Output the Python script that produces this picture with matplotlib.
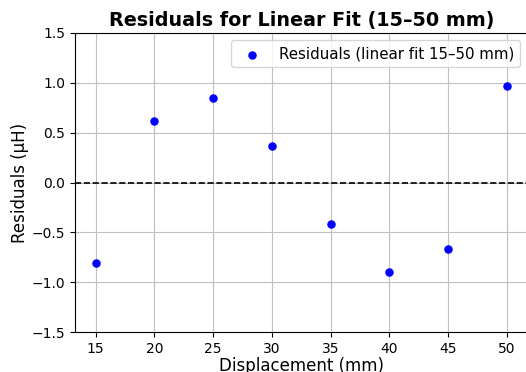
import matplotlib
matplotlib.use("Agg")
import matplotlib.pyplot as plt

displacement = [15, 20, 25, 30, 35, 40, 45, 50]
residuals = [-0.806, 0.614, 0.846, 0.363, -0.413, -0.896, -0.665, 0.967]

fig = plt.figure(figsize=(5.26, 3.72), dpi=100)
ax = fig.add_axes([0.1426, 0.1075, 0.8604, 0.8038])
ax.scatter(displacement, residuals, color='blue', s=26, zorder=3,
           label='Residuals (linear fit 15–50 mm)')
ax.axhline(0, color='black', linestyle='--', linewidth=1.2)
ax.set_xlim(13.25, 51.75)
ax.set_ylim(-1.5, 1.5)
ax.set_xticks(displacement)
ax.set_yticks([-1.5, -1.0, -0.5, 0.0, 0.5, 1.0, 1.5])
ax.grid(True, color='#c0c0c0', linewidth=0.8)
ax.set_axisbelow(True)
ax.tick_params(labelsize=10)
ax.set_xlabel('Displacement (mm)', fontsize=12, labelpad=1)
ax.set_ylabel('Residuals (µH)', fontsize=12, labelpad=2)
ax.set_title('Residuals for Linear Fit (15–50 mm)', fontsize=13.8, fontweight='bold', pad=5)
ax.legend(loc='upper right', fontsize=10.8)
fig.savefig('out.png', dpi=100)
